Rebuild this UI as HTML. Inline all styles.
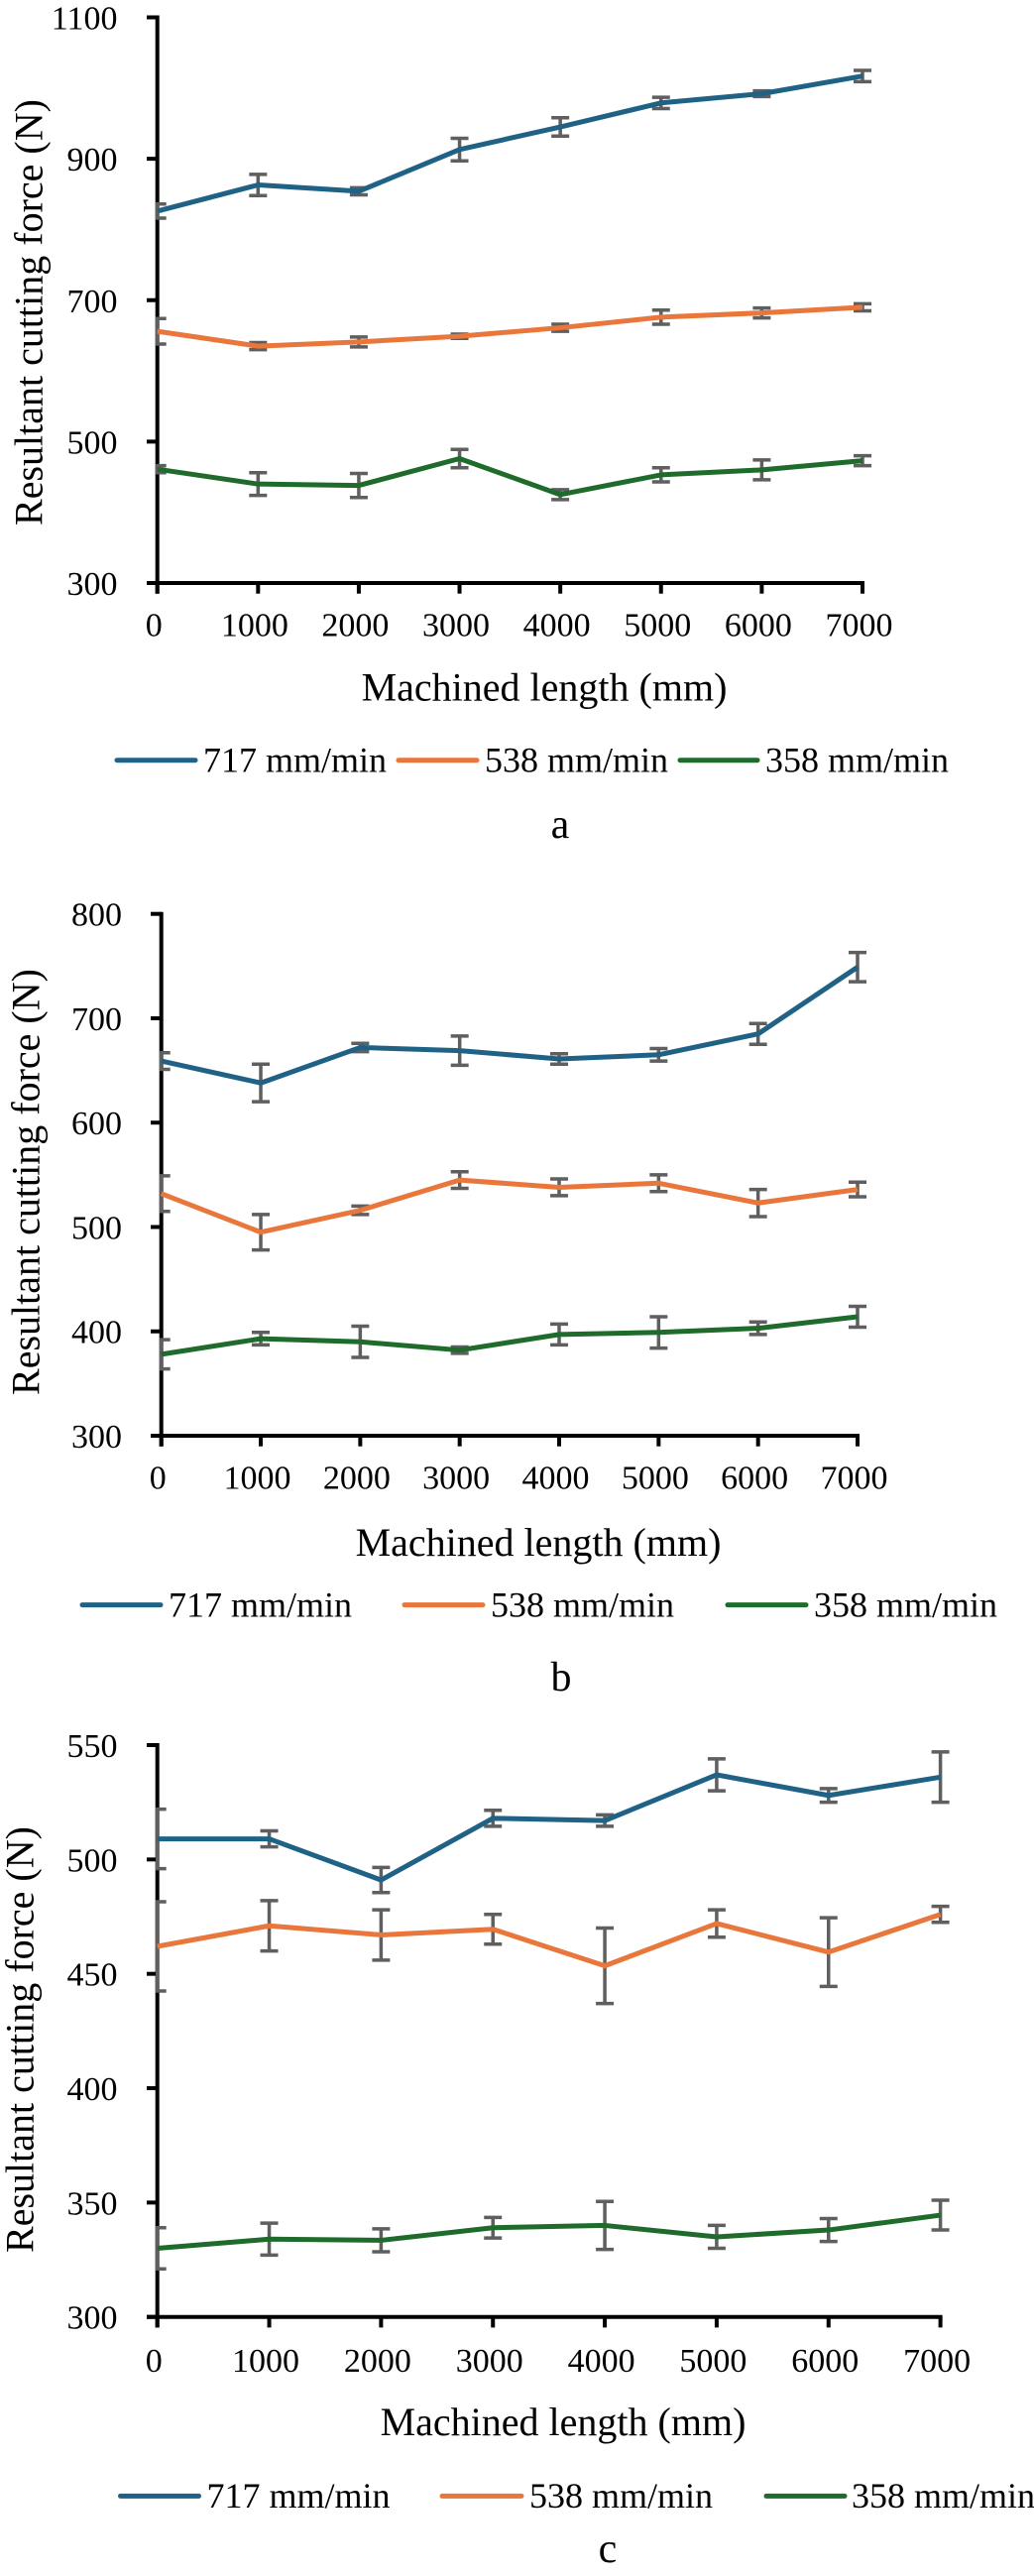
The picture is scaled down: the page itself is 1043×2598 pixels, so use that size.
<!DOCTYPE html>
<html lang="en">
<head>
<meta charset="utf-8">
<title>Resultant cutting force vs machined length</title>
<style>
html,body{margin:0;padding:0;background:#fff;}
svg{display:block;}
text{font-family:"Liberation Serif",serif;fill:#000;}
.tick{font-size:34px;}
.title{font-size:40px;}
.legend{font-size:36px;}
.caption{font-size:42px;}
.leg{stroke-width:5;stroke-linecap:round;fill:none;}
</style>
</head>
<body>
<svg id="figure" xmlns="http://www.w3.org/2000/svg" width="1043" height="2598" viewBox="0 0 1043 2598">
  <rect width="1043" height="2598" fill="#fff"/>

  <g id="panel-a">
    <g class="marks"></g>
    <text class="title" transform="translate(42.5 315) rotate(-90)" text-anchor="middle">Resultant cutting force (N)</text>
    <text class="title" x="549" y="706.5" text-anchor="middle">Machined length (mm)</text>
    <g>
      <line class="leg" x1="118" y1="766.7" x2="197" y2="766.7" stroke="#1f6286"/>
      <text class="legend" x="205" y="778.5">717 mm/min</text>
      <line class="leg" x1="402" y1="766.7" x2="481" y2="766.7" stroke="#e9773c"/>
      <text class="legend" x="489" y="778.5">538 mm/min</text>
      <line class="leg" x1="686" y1="766.7" x2="764" y2="766.7" stroke="#1e6b2b"/>
      <text class="legend" x="772" y="778.5">358 mm/min</text>
    </g>
    <text class="caption" x="565" y="845" text-anchor="middle">a</text>
  </g>

  <g id="panel-b">
    <g class="marks"></g>
    <text class="title" transform="translate(39.5 1192) rotate(-90)" text-anchor="middle">Resultant cutting force (N)</text>
    <text class="title" x="543" y="1569" text-anchor="middle">Machined length (mm)</text>
    <g>
      <line class="leg" x1="83" y1="1618.6" x2="162" y2="1618.6" stroke="#1f6286"/>
      <text class="legend" x="170" y="1630.4">717 mm/min</text>
      <line class="leg" x1="408" y1="1618.6" x2="487" y2="1618.6" stroke="#e9773c"/>
      <text class="legend" x="495" y="1630.4">538 mm/min</text>
      <line class="leg" x1="734" y1="1618.6" x2="813" y2="1618.6" stroke="#1e6b2b"/>
      <text class="legend" x="821" y="1630.4">358 mm/min</text>
    </g>
    <text class="caption" x="566" y="1705" text-anchor="middle">b</text>
  </g>

  <g id="panel-c">
    <g class="marks"></g>
    <text class="title" transform="translate(33.5 2057) rotate(-90)" text-anchor="middle">Resultant cutting force (N)</text>
    <text class="title" x="568" y="2456" text-anchor="middle">Machined length (mm)</text>
    <g>
      <line class="leg" x1="121.5" y1="2517.4" x2="200.5" y2="2517.4" stroke="#1f6286"/>
      <text class="legend" x="208.5" y="2529.2">717 mm/min</text>
      <line class="leg" x1="446" y1="2517.4" x2="526" y2="2517.4" stroke="#e9773c"/>
      <text class="legend" x="534" y="2529.2">538 mm/min</text>
      <line class="leg" x1="773" y1="2517.4" x2="852" y2="2517.4" stroke="#1e6b2b"/>
      <text class="legend" x="859" y="2529.2">358 mm/min</text>
    </g>
    <text class="caption" x="613" y="2584" text-anchor="middle">c</text>
  </g>
</svg>

<script>
// Data
const categories = [0, 1000, 2000, 3000, 4000, 5000, 6000, 7000];

const ticksA = [300, 500, 700, 900, 1100];
const a717 = [826, 863, 854, 913, 945, 979, 992, 1017];
const a717Err = [10, 15, 5, 16, 13, 8, 4, 8];
const a538 = [656, 635, 641, 649, 661, 676, 682, 690];
const a538Err = [18, 5, 7, 3, 5, 10, 7, 5];
const a358 = [461, 440, 438, 476, 425, 453, 460, 473];
const a358Err = [5, 16, 17, 13, 7, 10, 14, 7];

const ticksB = [300, 400, 500, 600, 700, 800];
const b717 = [659, 638, 672, 669, 661, 665, 685, 749];
const b717Err = [8, 18, 4, 14, 5, 6, 10, 14];
const b538 = [532, 495, 516, 545, 538, 542, 523, 536];
const b538Err = [17, 17, 4, 8, 8, 8, 13, 7];
const b358 = [378, 393, 390, 382, 397, 399, 403, 414];
const b358Err = [14, 6, 15, 3, 10, 15, 6, 10];

const ticksC = [300, 350, 400, 450, 500, 550];
const c717 = [509, 509, 491, 518, 517, 537, 528, 536];
const c717Err = [13, 3.5, 5.5, 3.5, 2.5, 7, 3, 11];
const c538 = [462, 471, 467, 469.5, 453.5, 472, 459.5, 476];
const c538Err = [19.5, 11, 11, 6.5, 16.5, 6, 15, 3.5];
const c358 = [330, 334, 333.5, 339, 340, 335, 338, 344.5];
const c358Err = [9, 7, 5, 4.5, 10.5, 5, 5, 6.5];

const NS = 'http://www.w3.org/2000/svg';
const AXIS_W = 4;
const TICK_LEN = 10.7;
const CAP = 9;

function make(tag, parent, attrs, text) {
  const el = document.createElementNS(NS, tag);
  for (const k in attrs) el.setAttribute(k, attrs[k]);
  if (text !== undefined) el.textContent = text;
  parent.appendChild(el);
  return el;
}

function drawChart(cfg) {
  const root = document.querySelector('#' + cfg.id + ' .marks');
  const xMax = categories[categories.length - 1];
  const yMin = cfg.ticks[0];
  const yMax = cfg.ticks[cfg.ticks.length - 1];
  const X = function (v) { return cfg.x0 + (v / xMax) * (cfg.x1 - cfg.x0); };
  const Y = function (v) { return cfg.y0 - ((v - yMin) / (yMax - yMin)) * (cfg.y0 - cfg.y1); };

  const axisY = make('line', root, {x1: cfg.x0, x2: cfg.x0, y1: cfg.y1 - AXIS_W / 2, y2: cfg.y0 + TICK_LEN, stroke: '#000', 'stroke-width': AXIS_W});
  
  
  const axisX = make('line', root, {x1: cfg.x0 - TICK_LEN, x2: cfg.x1 + AXIS_W / 2, y1: cfg.y0, y2: cfg.y0, stroke: '#000', 'stroke-width': AXIS_W});
  
  

  cfg.ticks.forEach(function (t) {
    const mark = make('line', root, {x1: cfg.x0 - TICK_LEN, x2: cfg.x0, y1: Y(t), y2: Y(t), stroke: '#000', 'stroke-width': AXIS_W});
    
    
    const lab = make('text', root, {class: 'tick', x: cfg.labelRight, y: Y(t) + 12, 'text-anchor': 'end'}, String(t));
    
    
  });

  categories.forEach(function (c) {
    const mark = make('line', root, {x1: X(c), x2: X(c), y1: cfg.y0, y2: cfg.y0 + TICK_LEN, stroke: '#000', 'stroke-width': AXIS_W});
    
    
    const lab = make('text', root, {class: 'tick', x: X(c) - 3.5, y: cfg.xLabelY, 'text-anchor': 'middle'}, String(c));
    
    
  });

  const clipId = 'clip-' + cfg.id;
  const defs = make('defs', root, {});
  const clip = make('clipPath', defs, {id: clipId});
  make('rect', clip, {x: cfg.x0 - 2, y: 0, width: 1043, height: 2598});

  cfg.series.forEach(function (s) {
    const errGroup = make('g', root, {stroke: '#5f5f5f', 'stroke-width': 3.5, fill: 'none', 'clip-path': 'url(#' + clipId + ')'});
    
    
    categories.forEach(function (c, i) {
      const hi = Y(s.values[i] + s.errors[i]);
      const lo = Y(s.values[i] - s.errors[i]);
      const px = X(c);
      const bar = make('path', errGroup, {d: 'M' + (px - CAP) + ' ' + hi + 'H' + (px + CAP) + 'M' + px + ' ' + hi + 'V' + lo + 'M' + (px - CAP) + ' ' + lo + 'H' + (px + CAP)});
      
      
    });
  });

  cfg.series.forEach(function (s) {
    const pts = categories.map(function (c, i) { return X(c) + ',' + Y(s.values[i]); }).join(' ');
    const line = make('polyline', root, {points: pts, fill: 'none', stroke: s.color, 'stroke-width': 5, 'stroke-linejoin': 'round'});
    
    
  });
}

drawChart({
  id: 'panel-a', ticks: ticksA, x0: 158.7, x1: 870, y0: 588, y1: 17.5, labelRight: 118.5, xLabelY: 641.7,
  series: [
    {values: a717, errors: a717Err, color: '#1f6286'},
    {values: a538, errors: a538Err, color: '#e9773c'},
    {values: a358, errors: a358Err, color: '#1e6b2b'}
  ]
});
drawChart({
  id: 'panel-b', ticks: ticksB, x0: 162.7, x1: 865, y0: 1448, y1: 921.7, labelRight: 123, xLabelY: 1501.7,
  series: [
    {values: b717, errors: b717Err, color: '#1f6286'},
    {values: b538, errors: b538Err, color: '#e9773c'},
    {values: b358, errors: b358Err, color: '#1e6b2b'}
  ]
});
drawChart({
  id: 'panel-c', ticks: ticksC, x0: 158.7, x1: 948.6, y0: 2336.7, y1: 1760, labelRight: 118.5, xLabelY: 2392,
  series: [
    {values: c717, errors: c717Err, color: '#1f6286'},
    {values: c538, errors: c538Err, color: '#e9773c'},
    {values: c358, errors: c358Err, color: '#1e6b2b'}
  ]
});
</script>
</body>
</html>
